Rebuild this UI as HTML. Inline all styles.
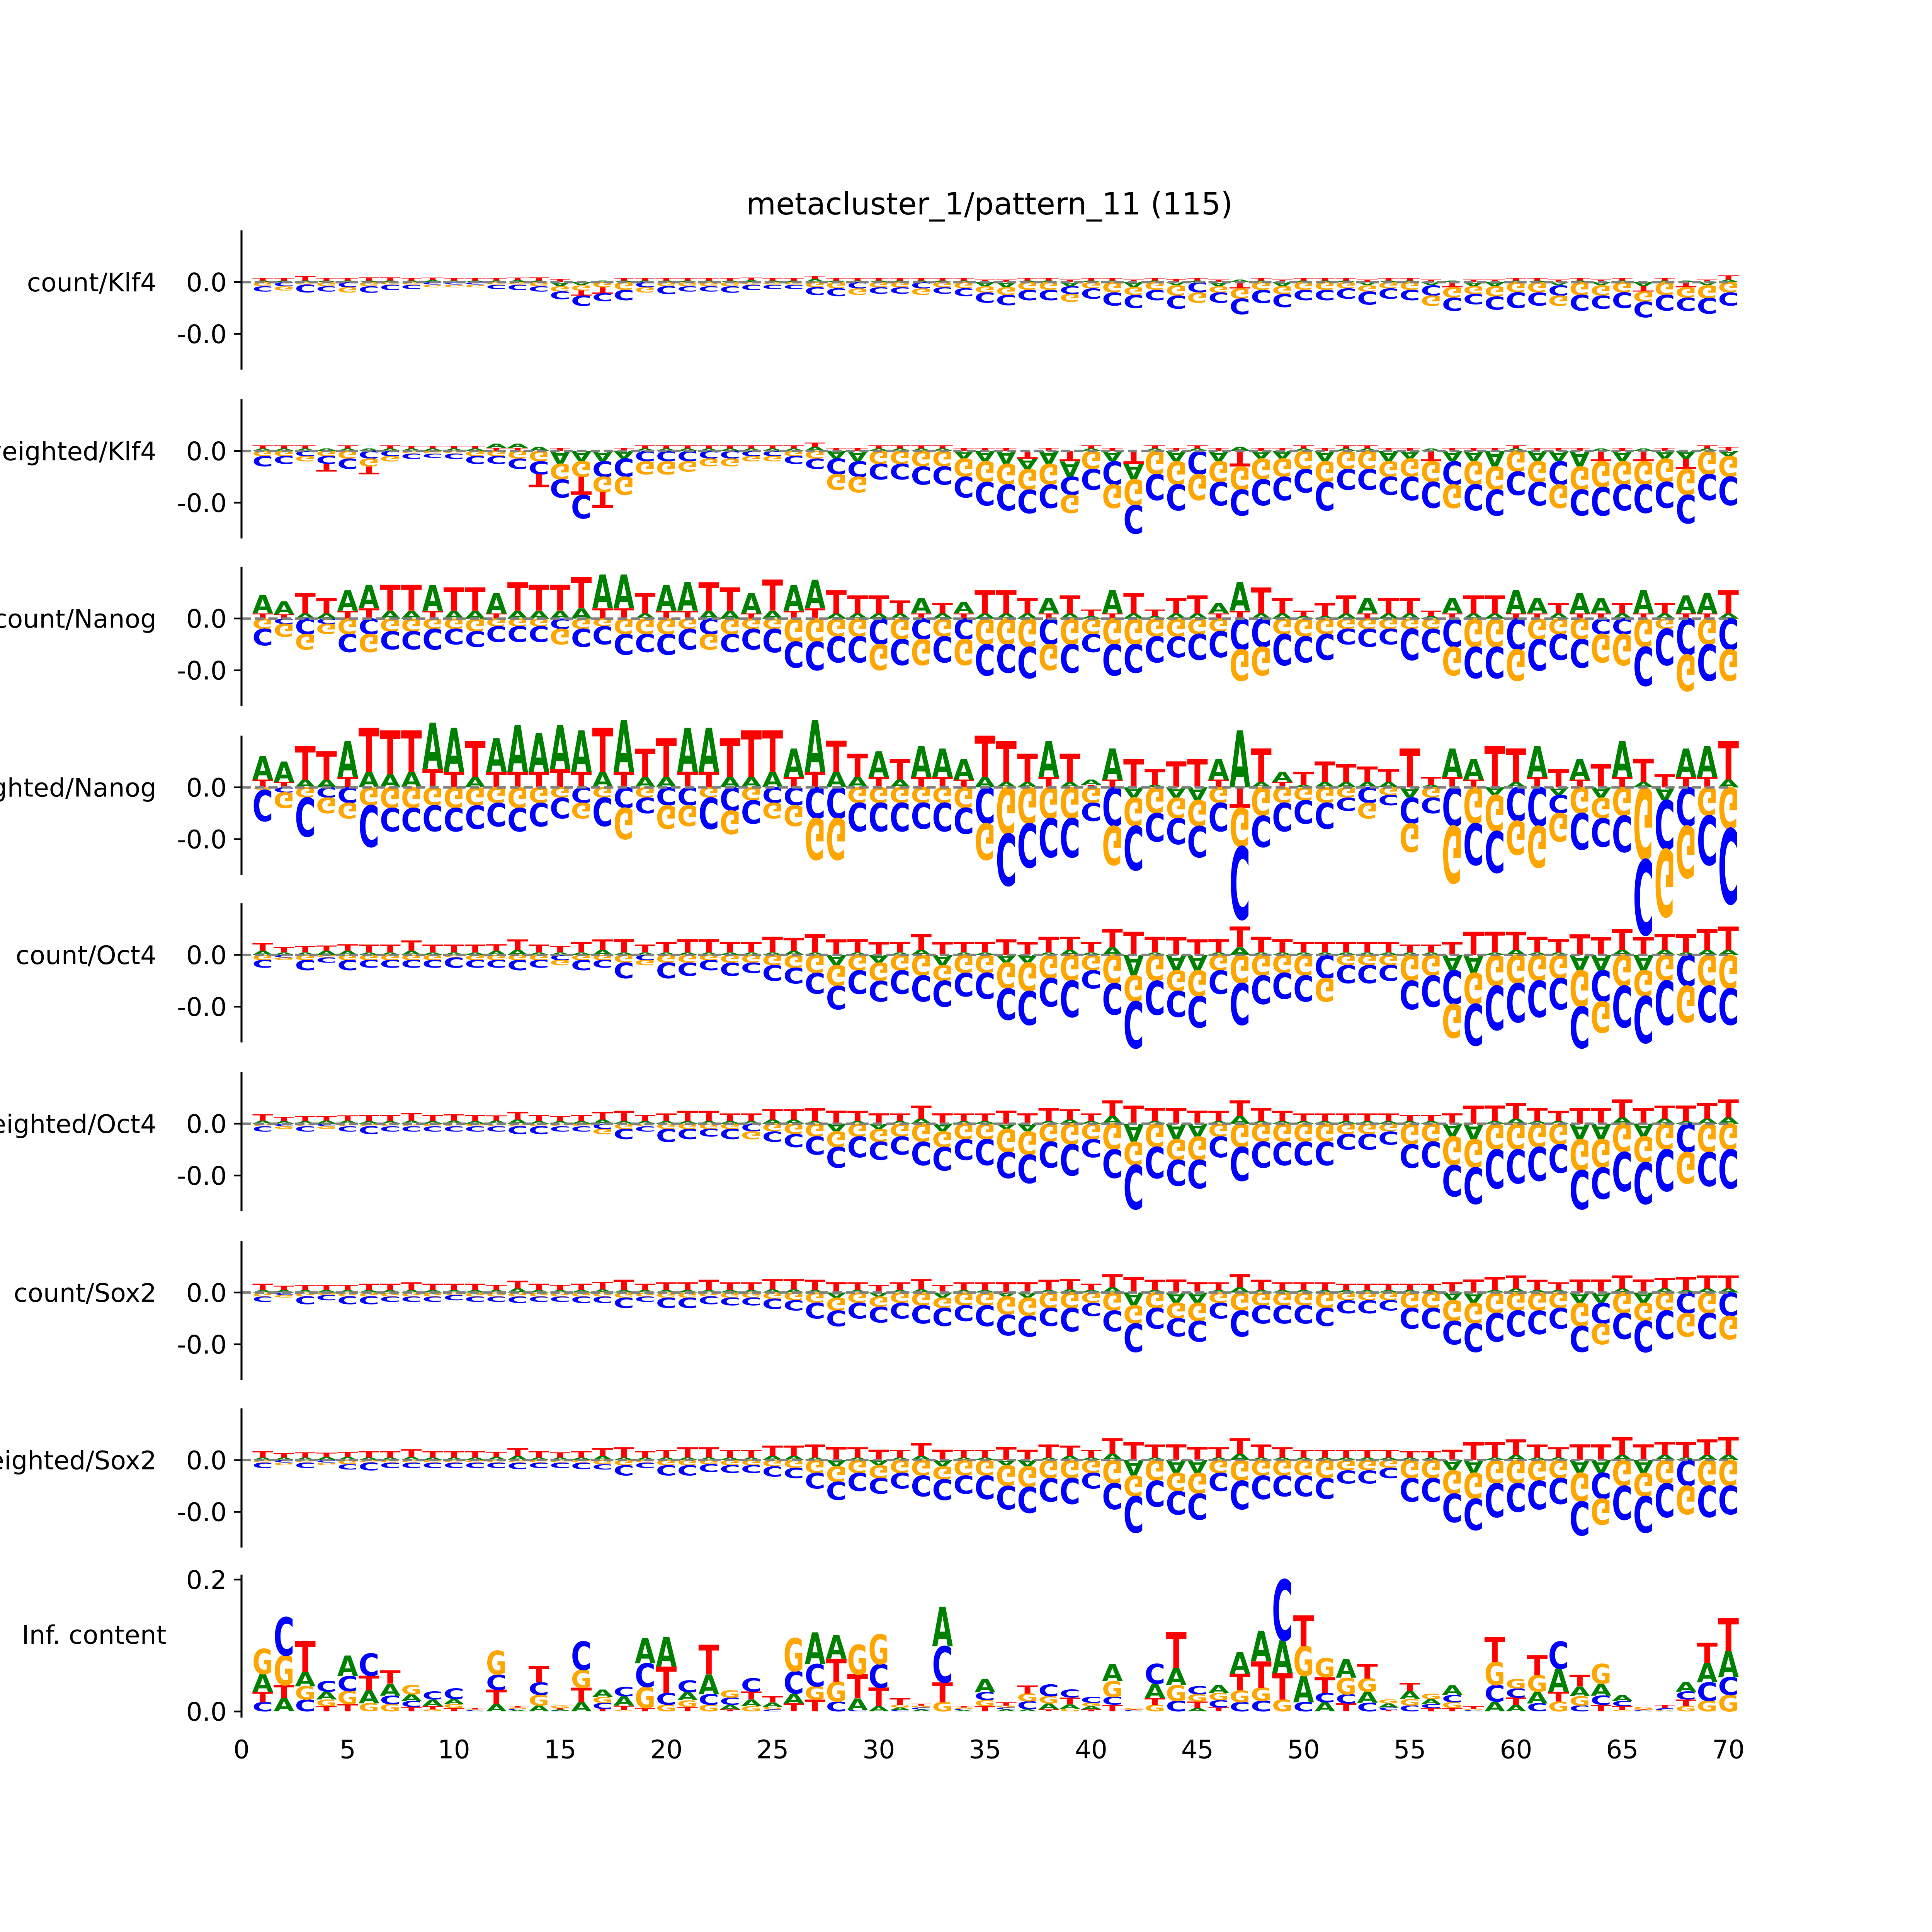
<!DOCTYPE html>
<html><head><meta charset="utf-8"><title>metacluster_1/pattern_11</title>
<style>html,body{margin:0;padding:0;background:#fff;width:100%;height:100%;overflow:hidden;}svg{display:block;width:100vw;height:100vh;}</style></head>
<body>
<svg id="fig" xmlns="http://www.w3.org/2000/svg" viewBox="0 0 1568 1568" preserveAspectRatio="none">
<rect x="0" y="0" width="1568" height="1568" fill="#fff"/>
<text x="803" y="174" text-anchor="middle" font-family="DejaVu Sans, Liberation Sans, sans-serif" font-size="24.8">metacluster_1/pattern_11 (115)</text>
</svg>
<script>
const trackNames=["count/Klf4","weighted/Klf4","count/Nanog","weighted/Nanog","count/Oct4","weighted/Oct4","count/Sox2","weighted/Sox2"];
const xTicks=[0,5,10,15,20,25,30,35,40,45,50,55,60,65,70];
const icTickLabels=["0.0","0.2"];
// Track 1 count/Klf4
const k1A=[.03,.03,.03,.03,.03,.03,.03,.03,.04,.03,.03,.03,.04,.03,-.08,-.06,.03,.03,.03,.03,.03,.03,.03,.04,.03,.03,.06,.03,.03,.03,.03,.03,.03,.03,-.08,-.1,.03,.03,-.08,.03,.03,-.1,.03,-.06,.03,-.08,.05,.03,-.08,.03,.03,.03,-.06,.03,.03,-.06,.03,-.08,-.08,.03,.03,-.06,.03,-.06,.03,-.08,.03,.03,-.06,.05];
const k1C=[.1,.08,.15,.1,.1,.12,.1,.08,.05,.05,.05,.08,.1,.1,.15,.2,.15,.2,.1,.15,.1,.1,.12,.1,.08,.08,.15,.15,.12,.12,.12,.12,.12,.15,.2,.2,.2,.2,.15,.2,.25,.25,.2,.25,.2,.2,.3,.25,.25,.2,.2,.2,.25,.2,.2,.2,.25,.2,.25,.3,.25,.2,.3,.25,.3,.3,.3,.25,.3,.25];
const k1G=[.08,.08,.05,.08,.1,.08,.05,.05,.05,.05,.05,.05,.05,.08,.1,.1,.1,.15,.1,.08,.08,.08,.08,.05,.05,.05,.1,.12,.12,.1,.1,.12,.1,.12,.12,.15,.15,.15,.15,.12,.2,.15,.15,.2,.2,.12,.2,.15,.15,.15,.15,.12,.12,.12,.15,.2,.2,.15,.2,.2,.2,.2,.25,.2,.2,.2,.25,.2,.25,.2];
const k1T=[.05,.05,.08,.05,.05,.06,.06,.05,.05,.05,.05,.05,.05,.06,.06,-.1,-.12,.05,.05,.05,.05,.05,.05,.05,.05,.05,.06,.05,.05,.05,.05,.05,.05,.05,.05,.05,.05,.05,.05,.05,.05,.05,.05,.06,.05,.05,-.12,.05,.05,.05,.05,.05,.05,.05,.05,.05,-.1,.05,.05,.05,.05,.05,.05,.05,.05,-.1,.05,-.1,.05,.08];
// Track 2 weighted/Klf4
const k2A=[.05,.05,.05,.05,.05,.05,.05,.05,.05,.05,.05,.08,.08,.08,-.25,-.2,-.2,-.15,.05,.05,.05,.05,.05,.05,.05,.05,.08,-.15,-.2,.05,.05,.05,.05,-.15,-.2,-.25,-.2,-.25,-.3,.05,-.2,-.3,.05,-.2,.05,-.2,.08,-.15,-.15,.05,-.2,.05,.05,-.2,-.15,.05,-.2,-.2,-.3,.05,-.2,-.2,-.3,.05,-.2,.05,-.15,-.15,.05,-.1];
const k2C=[.2,.15,.1,.15,.2,.15,.1,.1,.08,.1,.15,.15,.2,.25,.35,.45,.3,.35,.2,.2,.2,.15,.15,.1,.1,.15,.2,.3,.3,.3,.3,.35,.35,.4,.45,.5,.45,.45,.35,.4,.45,.55,.5,.5,.45,.45,.5,.5,.45,.45,.55,.4,.4,.35,.45,.5,.45,.5,.5,.45,.45,.45,.5,.55,.5,.55,.5,.55,.5,.55];
const k2G=[.1,.1,.1,.1,.15,.15,.1,.05,.05,.05,.1,.1,.15,.2,.3,.3,.3,.35,.25,.25,.2,.15,.15,.1,.1,.1,.15,.3,.3,.25,.25,.3,.3,.35,.4,.4,.4,.4,.35,.35,.45,.5,.45,.45,.5,.4,.45,.4,.35,.35,.4,.35,.35,.3,.35,.4,.45,.45,.45,.4,.4,.45,.45,.5,.45,.45,.45,.5,.45,.4];
const k2T=[.06,.06,.06,-.15,.06,-.15,.06,.05,.05,.05,.05,.06,.06,-.25,.06,-.35,-.3,.06,.06,.06,.06,.06,.06,.06,.06,.06,.08,.06,.06,.06,.06,.06,.06,.06,.06,.06,-.15,.06,-.2,.06,.06,-.25,.06,.06,.06,.06,-.3,.06,.06,.06,.06,.06,.06,.06,.06,-.2,.06,.06,.06,.06,.06,.06,.06,-.2,.06,-.2,.06,-.2,.06,.08];
// Track 3 count/Nanog
const k3A=[.36,.25,.1,.1,.4,.45,.15,.15,.5,.15,.15,.4,.15,.15,.15,.2,.65,.65,.1,.5,.55,.15,.15,.4,.15,.5,.55,.1,.1,.1,.1,.3,.1,.22,.1,.1,.1,.3,.1,.05,.45,.1,.05,.1,.1,.2,.55,.1,.1,.05,.05,.1,.3,.1,.1,.05,.3,.1,.1,.45,.3,.1,.4,.3,.1,.45,.1,.35,.4,.1];
const k3C=[.32,.1,.3,.1,.35,.3,.35,.35,.4,.3,.3,.3,.3,.3,.2,.35,.35,.4,.35,.4,.4,.3,.35,.4,.45,.5,.55,.5,.5,.5,.5,.4,.5,.4,.6,.55,.6,.5,.55,.35,.6,.55,.5,.4,.5,.5,.6,.55,.6,.5,.5,.3,.35,.3,.6,.45,.55,.6,.6,.6,.6,.5,.55,.3,.3,.75,.7,.7,.7,.6];
const k3G=[.2,.25,.3,.2,.3,.35,.25,.25,.2,.2,.25,.15,.15,.15,.3,.2,.15,.3,.3,.3,.2,.3,.3,.2,.2,.45,.45,.35,.35,.5,.4,.5,.35,.5,.5,.5,.55,.5,.5,.3,.5,.5,.35,.35,.3,.25,.6,.55,.3,.35,.3,.2,.2,.2,.2,.2,.55,.55,.55,.6,.4,.3,.4,.55,.6,.55,.2,.7,.5,.6];
const k3T=[.1,.08,.4,.3,.15,.2,.5,.5,.15,.45,.45,.1,.55,.5,.5,.6,.2,.2,.4,.15,.15,.55,.45,.1,.6,.15,.2,.45,.35,.35,.25,.1,.2,.1,.45,.45,.3,.1,.35,.12,.1,.4,.12,.3,.35,.1,.15,.5,.3,.1,.25,.35,.1,.3,.3,.1,.1,.35,.35,.1,.1,.2,.1,.1,.2,.1,.2,.1,.1,.45];
// Track 4 weighted/Nanog
const k4A=[.45,.4,.15,.15,.7,.3,.25,.3,.9,.85,.2,.65,.9,.75,.85,.8,.3,1.0,.2,.2,.85,.85,.2,.2,.3,.55,1.0,.3,.2,.5,.15,.6,.55,.4,.2,.1,.1,.7,.1,.1,.6,-.2,.05,-.2,-.25,.4,1.1,.1,.2,.05,.1,.1,.1,.1,-.2,.05,.55,.4,-.15,.1,.6,-.15,.4,-.2,.7,.1,-.25,.55,.6,.15];
const k4C=[.6,.1,.75,.2,.3,.8,.45,.45,.5,.45,.45,.45,.45,.45,.4,.3,.55,.4,.3,.35,.35,.6,.45,.45,.3,.35,.6,.6,.55,.55,.55,.5,.55,.5,.7,1.0,.85,.75,.75,.35,.75,.85,.55,.5,.6,.55,1.4,.6,.55,.45,.5,.25,.3,.2,.5,.3,.75,.8,.8,.65,.75,.35,.7,.55,.7,1.45,.95,.75,.95,1.45];
const k4G=[.05,.3,.2,.3,.3,.35,.4,.4,.35,.4,.35,.3,.4,.3,.2,.3,.2,.6,.2,.45,.4,.2,.45,.25,.3,.4,.8,.8,.3,.3,.3,.3,.3,.4,.7,.9,.7,.6,.6,.3,.75,.55,.5,.4,.5,.3,.75,.55,.3,.25,.3,.2,.3,.15,.55,.2,1.1,.7,.7,.65,.8,.55,.5,.4,.55,1.4,1.3,1.0,.55,.8];
const k4T=[.15,.1,.65,.55,.2,.85,.85,.8,.35,.3,.7,.3,.3,.3,.35,.3,.85,.3,.55,.75,.3,.3,.75,.9,.8,.2,.3,.6,.45,.2,.4,.2,.2,.15,.8,.8,.55,.2,.55,.05,.15,.55,.3,.5,.55,.15,-.4,.65,.1,.25,.4,.35,.3,.25,.75,.15,.2,.15,.8,.65,.2,.35,.15,.45,.2,.45,.25,.2,.2,.75];
// Track 5 count/Oct4
const k5A=[.08,.05,.05,.08,.08,.05,.05,.08,.05,.05,.05,.08,.1,.05,.05,.05,.1,.05,.05,.05,.05,.05,.05,.05,.05,.08,.05,-.2,.05,-.15,.05,.1,-.2,.05,.05,-.15,-.15,.05,.1,.05,.15,-.4,.05,-.3,-.3,.05,.15,.05,.05,.05,.05,.05,.05,.05,.05,.05,-.3,-.35,.05,.1,.05,.05,-.3,-.3,.1,-.3,.1,.05,.1,.1];
const k5C=[.15,.05,.2,.1,.2,.15,.15,.15,.15,.2,.15,.15,.2,.15,.1,.2,.15,.3,.1,.3,.25,.2,.25,.2,.3,.3,.4,.45,.45,.4,.45,.5,.5,.45,.5,.6,.65,.55,.7,.35,.6,.9,.65,.5,.6,.45,.8,.55,.5,.5,.45,.35,.35,.3,.55,.6,.65,.8,.85,.75,.7,.6,.8,.6,.8,.9,.85,.6,.7,.7];
const k5G=[.1,.05,.1,.05,.1,.1,.1,.1,.1,.05,.1,.1,.1,.1,.1,.1,.1,.15,.1,.15,.15,.1,.15,.15,.2,.25,.35,.4,.3,.35,.3,.4,.3,.35,.35,.5,.55,.45,.5,.3,.55,.5,.5,.4,.5,.3,.55,.4,.35,.4,.45,.2,.2,.2,.5,.4,.65,.6,.6,.55,.5,.45,.7,.6,.6,.5,.5,.7,.6,.65];
const k5T=[.15,.1,.12,.1,.12,.15,.15,.2,.15,.15,.15,.12,.2,.15,.12,.2,.2,.25,.15,.2,.25,.25,.2,.2,.3,.25,.35,.3,.25,.25,.2,.3,.25,.2,.2,.3,.25,.3,.25,.2,.35,.45,.3,.35,.3,.25,.4,.3,.25,.2,.2,.2,.2,.2,.15,.15,.25,.45,.4,.35,.3,.25,.4,.35,.4,.35,.3,.35,.4,.45];
// Track 6 weighted/Oct4
const k6A=[.06,.05,.05,.06,.06,.05,.05,.06,.05,.06,.05,.06,.08,.05,.05,.05,.08,.05,.05,.05,.05,.05,.05,.05,.08,.08,.05,-.15,.05,-.1,.05,.1,-.15,.05,.05,-.1,-.15,.05,.08,.05,.15,-.35,.05,-.3,-.25,.05,.15,.05,.05,.05,.05,.05,.05,.05,.05,.05,-.25,-.3,.05,.1,.05,.05,-.3,-.3,.12,-.25,.1,.05,.1,.12];
const k6C=[.1,.05,.1,.05,.1,.15,.1,.1,.1,.1,.1,.1,.15,.15,.1,.1,.1,.2,.1,.25,.2,.15,.2,.15,.2,.25,.35,.4,.4,.35,.35,.45,.45,.4,.5,.5,.55,.5,.6,.35,.55,.85,.6,.5,.55,.4,.65,.5,.45,.45,.45,.3,.3,.25,.45,.5,.6,.7,.75,.65,.65,.55,.75,.6,.75,.8,.8,.55,.65,.75];
const k6G=[.05,.05,.05,.05,.05,.05,.05,.05,.05,.05,.05,.05,.05,.05,.05,.05,.1,.1,.05,.1,.1,.1,.1,.15,.15,.2,.25,.3,.25,.25,.25,.35,.3,.3,.3,.45,.45,.35,.4,.3,.5,.45,.45,.4,.45,.25,.45,.35,.35,.35,.35,.2,.2,.15,.4,.35,.55,.55,.5,.5,.45,.4,.6,.55,.55,.5,.5,.6,.55,.5];
const k6T=[.12,.08,.1,.08,.1,.12,.12,.15,.12,.12,.12,.1,.15,.12,.1,.12,.15,.2,.12,.15,.2,.2,.15,.15,.2,.2,.25,.25,.2,.2,.15,.25,.2,.15,.15,.25,.2,.25,.2,.15,.3,.35,.25,.3,.25,.2,.3,.25,.2,.15,.15,.15,.15,.15,.12,.12,.2,.35,.3,.3,.25,.2,.3,.3,.35,.3,.25,.3,.3,.35];
// Track 7 count/Sox2
const k7A=[.05,.05,.05,.05,.05,.05,.05,.05,.05,.05,.05,.05,.08,.05,.05,.05,.06,.05,.05,.05,.05,.05,.05,.05,.06,.06,.05,-.1,.05,-.08,.05,.06,-.1,.05,.05,-.08,-.1,.05,.06,.05,.1,-.25,.05,-.2,-.2,.05,.1,.05,.05,.05,.05,.05,.05,.05,.05,.05,-.15,-.2,.05,.08,.05,.05,-.2,-.2,.08,-.2,.08,.05,.08,.08];
const k7C=[.1,.05,.15,.1,.15,.15,.1,.1,.1,.1,.1,.1,.12,.1,.1,.12,.12,.2,.1,.2,.2,.15,.15,.15,.2,.2,.3,.3,.3,.3,.3,.35,.35,.3,.4,.4,.4,.35,.45,.25,.4,.55,.4,.35,.4,.3,.5,.35,.35,.35,.35,.25,.25,.2,.4,.4,.45,.55,.55,.5,.45,.4,.5,.4,.5,.6,.55,.4,.5,.45];
const k7G=[.08,.05,.08,.05,.08,.08,.08,.08,.08,.05,.08,.08,.08,.08,.08,.08,.08,.1,.08,.1,.1,.08,.1,.1,.12,.15,.2,.25,.2,.2,.2,.25,.2,.25,.25,.35,.35,.3,.3,.2,.35,.35,.3,.3,.35,.2,.35,.25,.25,.25,.3,.15,.15,.15,.3,.3,.4,.4,.4,.35,.35,.3,.45,.4,.4,.35,.35,.45,.4,.45];
const k7T=[.12,.08,.1,.1,.1,.12,.12,.15,.12,.12,.12,.1,.15,.12,.1,.12,.15,.2,.12,.15,.15,.2,.15,.15,.2,.2,.2,.2,.15,.15,.15,.2,.15,.15,.15,.2,.2,.2,.2,.12,.25,.3,.2,.25,.2,.15,.25,.2,.15,.15,.15,.12,.12,.12,.12,.12,.2,.25,.25,.25,.2,.15,.25,.25,.25,.25,.2,.25,.25,.25];
// Track 8 weighted/Sox2
const k8A=[.05,.05,.05,.06,.06,.05,.05,.06,.05,.05,.05,.06,.08,.05,.05,.05,.08,.05,.05,.05,.05,.05,.05,.05,.08,.08,.05,-.12,.05,-.1,.05,.08,-.12,.05,.05,-.1,-.12,.05,.08,.05,.12,-.3,.05,-.25,-.25,.05,.12,.05,.05,.05,.05,.05,.05,.05,.05,.05,-.2,-.25,.05,.1,.05,.05,-.25,-.25,.1,-.25,.1,.05,.1,.1];
const k8C=[.1,.05,.1,.05,.1,.15,.1,.1,.1,.1,.1,.1,.12,.1,.1,.12,.1,.2,.1,.2,.2,.15,.15,.15,.2,.2,.3,.35,.35,.3,.3,.4,.4,.35,.45,.45,.5,.45,.5,.3,.5,.7,.5,.45,.5,.35,.55,.45,.4,.4,.4,.25,.25,.2,.45,.45,.55,.6,.65,.55,.55,.5,.65,.5,.65,.7,.65,.5,.6,.55];
const k8G=[.05,.05,.05,.05,.08,.05,.05,.05,.05,.05,.05,.05,.05,.05,.05,.05,.08,.1,.05,.1,.1,.08,.1,.1,.12,.15,.25,.3,.25,.25,.25,.3,.25,.3,.3,.4,.4,.35,.35,.25,.45,.4,.4,.35,.4,.25,.4,.3,.3,.3,.35,.2,.2,.15,.35,.35,.45,.5,.45,.45,.4,.35,.55,.5,.5,.45,.45,.55,.5,.5];
const k8T=[.12,.08,.1,.08,.1,.12,.12,.15,.12,.12,.12,.1,.15,.12,.1,.12,.15,.2,.12,.15,.2,.2,.15,.15,.2,.2,.25,.25,.2,.2,.15,.25,.2,.15,.15,.25,.2,.25,.2,.15,.3,.35,.25,.3,.25,.2,.3,.25,.2,.15,.15,.15,.15,.15,.12,.12,.2,.35,.3,.3,.25,.2,.3,.3,.35,.3,.25,.3,.3,.35];
// Information content (units of 0.001 bits)
const icA=[27,20,22,12,31,20,18,10,10,8,1,11,2,9,2,14,11,14,38,45,12,30,7,10,7,15,48,36,18,8,4,3,60,2,20,3,3,9,7,5,26,1,22,26,5,12,33,46,50,40,14,28,17,6,12,8,15,1,15,10,18,35,15,18,9,1,1,15,30,40];
const icC=[14,58,18,16,23,34,13,9,12,16,1,23,2,19,1,43,9,14,36,18,18,16,11,20,3,34,34,15,2,36,2,3,55,2,12,3,12,18,12,9,12,1,30,16,12,11,14,16,92,14,14,14,13,4,9,6,11,1,25,14,12,41,9,14,8,1,3,12,28,27];
const icG=[38,45,20,10,20,12,11,14,3,6,1,36,2,16,4,27,9,2,32,10,10,10,11,8,4,50,20,30,45,45,4,3,14,2,9,3,12,11,4,5,24,2,10,24,11,11,18,20,18,45,29,25,20,6,10,8,9,2,35,14,25,15,14,30,2,4,1,8,16,25];
const icT=[16,20,47,8,11,22,20,7,5,5,2,22,2,25,2,22,4,7,5,40,7,45,3,12,9,12,18,35,36,28,10,3,30,2,8,5,12,3,10,3,10,1,10,54,10,6,25,40,40,47,24,12,22,2,12,5,5,4,38,11,30,15,18,10,6,1,5,10,30,50];

const trackData=[[k1A,k1C,k1G,k1T],[k2A,k2C,k2G,k2T],[k3A,k3C,k3G,k3T],[k4A,k4C,k4G,k4T],[k5A,k5C,k5G,k5T],[k6A,k6C,k6G,k6T],[k7A,k7C,k7G,k7T],[k8A,k8C,k8G,k8T]];

const NS="http://www.w3.org/2000/svg";
const svg=document.getElementById('fig');
const FONT="DejaVu Sans, Liberation Sans, sans-serif";
const LETTERS=["A","C","G","T"];
const COLORS={A:"#008000",C:"#0000ff",G:"#ffa500",T:"#ff0000"};
const ADV={A:77.4,C:73.4,G:82.1,T:68.2};
const X0=196, XU=17.24;
function xScale(v){return X0+v*XU;}
const zeros=[229,366,502,639,775,912,1049,1185];
const UNIT=42;
function mk(tag,attrs){const e=document.createElementNS(NS,tag);for(const k in attrs)e.setAttribute(k,attrs[k]);return e;}

function drawLetter(g,L,pos,yStart,h,flip){
  if(h<0.3)return;
  const w=XU*0.98;
  const sx=w/ADV[L], sy=h/72.9;
  const x=xScale(pos)-w/2;
  const t=mk('text',{x:0,y:0,'font-family':"DejaVu Sans, sans-serif",'font-weight':'bold','font-size':100,fill:COLORS[L],
    transform:flip?`translate(${x},${yStart}) scale(${sx},${-sy})`:`translate(${x},${yStart}) scale(${sx},${sy})`});
  t.textContent=L;
  
  
  g.appendChild(t);
}
function drawStack(g,vals,pos,y0,scale){
  const items=LETTERS.map((L,k)=>({L,v:vals[k]}));
  const pos_=items.filter(d=>d.v>0).sort((a,b)=>a.v-b.v);
  const neg=items.filter(d=>d.v<0).sort((a,b)=>b.v-a.v);
  let y=y0;
  pos_.forEach(d=>{const h=d.v*scale;drawLetter(g,d.L,pos,y,h,false);y-=h;});
  y=y0;
  neg.forEach(d=>{const h=-d.v*scale;drawLetter(g,d.L,pos,y,h,true);y+=h;});
}
function tickText(g,x,y,s,anchor,size,name){
  const t=mk('text',{x:x,y:y,'text-anchor':anchor,'font-family':FONT,'font-size':size});
  t.textContent=s;
  
  
  g.appendChild(t);return t;
}

trackNames.forEach((name,ti)=>{
  const z=zeros[ti];
  const g=mk('g',{});
  
  
  svg.appendChild(g);
  const d=trackData[ti];
  for(let i=0;i<70;i++){
    drawStack(g,[d[0][i],-d[1][i],-d[2][i],d[3][i]],i+1,z,UNIT);
  }
  const zl=mk('line',{x1:X0,x2:1404,y1:z,y2:z,stroke:'#808080','stroke-width':2,'stroke-dasharray':'7.5,3.4'});
  
  
  g.appendChild(zl);
  const sp=mk('line',{x1:X0,x2:X0,y1:z-42,y2:z+71,stroke:'#000','stroke-width':1.6});
  
  
  g.appendChild(sp);
  [[z,"0.0"],[z+UNIT,"-0.0"]].forEach(([yy,s])=>{
    const tk=mk('line',{x1:X0-6,x2:X0,y1:yy,y2:yy,stroke:'#000','stroke-width':1.4});
    
    
    g.appendChild(tk);
    tickText(g,184,yy+7.5,s,'end',20.7,'y-tick-label');
  });
  tickText(g,127,z+7.5,name,'end',20.7,'track-label');
});

// IC panel
const icBase=1389, icTop=1282;
function yIC(v){return icBase-(v/0.2)*(icBase-icTop);}
const gi=mk('g',{});


svg.appendChild(gi);
for(let i=0;i<70;i++){
  const vals=[icA[i],icC[i],icG[i],icT[i]].map(v=>v/1000);
  drawStack(gi,vals,i+1,icBase,(icBase-icTop)/0.2);
}
const isp=mk('line',{x1:X0,x2:X0,y1:1278,y2:1394,stroke:'#000','stroke-width':1.6});


gi.appendChild(isp);
icTickLabels.forEach(s=>{
  const yy=yIC(parseFloat(s));
  const tk=mk('line',{x1:X0-6,x2:X0,y1:yy,y2:yy,stroke:'#000','stroke-width':1.4});
  
  
  gi.appendChild(tk);
  tickText(gi,184,yy+7.5,s,'end',20.7,'ic-y-tick-label');
});
tickText(gi,135,1334,"Inf. content",'end',20.7,'ic-y-axis-title');
xTicks.forEach(v=>{
  tickText(gi,xScale(v),1427,String(v),'middle',20.7,'x-tick-label');
});
</script>
</body></html>
